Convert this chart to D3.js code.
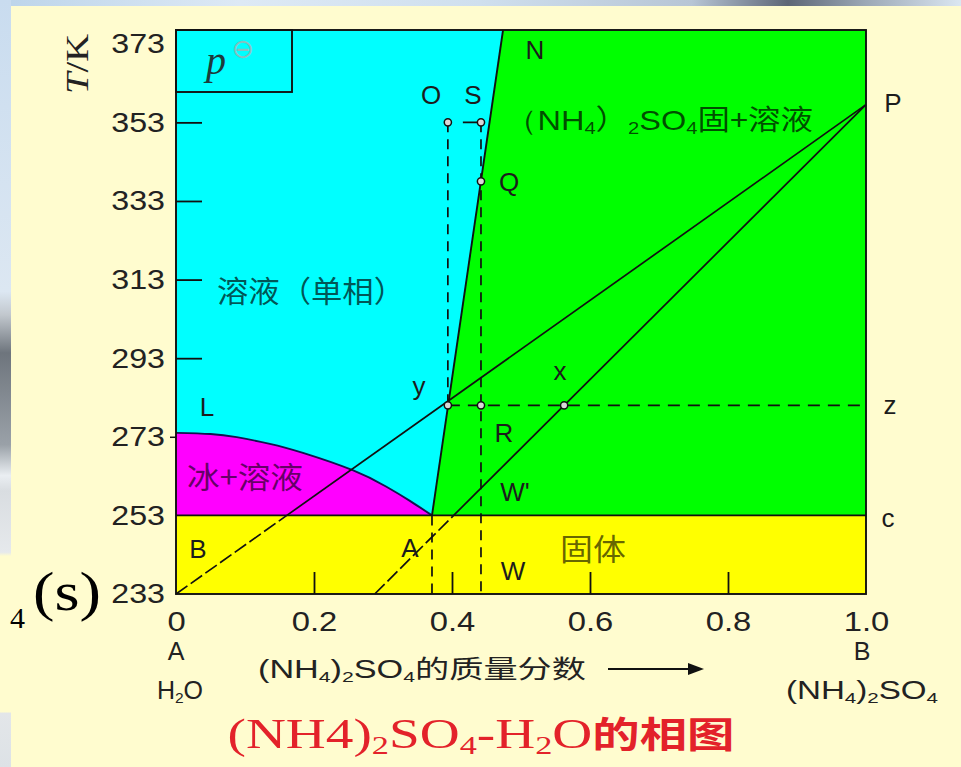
<!DOCTYPE html>
<html><head><meta charset="utf-8">
<script src="https://cdn.jsdelivr.net/npm/d3@7"></script>
<style>body{margin:0;background:#fffccf;} svg{display:block}</style>
</head><body><svg id="c" width="961" height="767"></svg>
<script>
// ---------- data ----------
const yTicks = [233, 253, 273, 293, 313, 333, 353, 373];
const xTicks = [0, 0.2, 0.4, 0.6, 0.8, 1.0];
const xTickLabels = ["0", "0.2", "0.4", "0.6", "0.8", "1.0"];
const innerYTicks = [293, 313, 333, 353];
const innerXTicks = [0.2, 0.4, 0.6, 0.8];
const tMin = 233, tMax = 376.5, tEutectic = 253, tTie = 281, tOS = 353;
// ice liquidus curve L -> eutectic
const iceCurveW = [0, 0.05, 0.088, 0.136, 0.184, 0.256, 0.305, 0.339, 0.371];
const iceCurveT = [274, 273.7, 272.9, 271.2, 268.9, 264.5, 260.3, 256.7, 253];
// (NH4)2SO4 solubility line: eutectic -> N
const saltLineW = [0.371, 0.474];
const saltLineT = [253, 376.5];
// point P and the two lines running to it (start at T=233)
const pointP = [1.0, 357.5];
const tieStartW = [0, 0.288];
// marked points
const ptNames = ["O", "S", "Q", "y", "R", "x"];
const ptW = [0.394, 0.442, 0.442, 0.394, 0.442, 0.5625];
const ptT = [353, 353, 338, 281, 281, 281];
// dashed verticals [w, fromT, toT]
const dashW = [0.371, 0.394, 0.442];
const dashFrom = [253, 353, 353];
const dashTo = [233, 281, 233];

// ---------- setup ----------
const svg = d3.select("#c");
const X = d3.scaleLinear().domain([0, 1]).range([176, 866]);
const Y = d3.scaleLinear().domain([tMin, tMax]).range([594, 30]);
const line = d3.line().x(d => X(d[0])).y(d => Y(d[1]));
const smooth = d3.line().x(d => X(d[0])).y(d => Y(d[1])).curve(d3.curveNatural);
const SANS = "'Liberation Sans', Arial, sans-serif";
const SERIF = "'Liberation Serif', 'Times New Roman', serif";
const CJK = "'Noto Sans CJK SC', sans-serif";

// background (slide)
const defs = svg.append("defs");
const tg = defs.append("linearGradient").attr("id", "topg").attr("x1", 0).attr("x2", 1).attr("y1", 0).attr("y2", 0);
[[0, "#bcd4ea"], [0.25, "#dde9f5"], [0.5, "#cfdfee"], [0.72, "#b7c5d5"], [0.82, "#5d6676"], [0.9, "#9ba7b5"], [1, "#dbe7f2"]]
  .forEach(s => tg.append("stop").attr("offset", s[0]).attr("stop-color", s[1]));
const lg = defs.append("linearGradient").attr("id", "leftg").attr("x1", 0).attr("x2", 0).attr("y1", 0).attr("y2", 1);
[[0, "#c9dcef"], [0.38, "#dce7f2"], [0.41, "#c2c8ce"], [0.46, "#6e757d"], [0.58, "#9aa1a8"], [0.62, "#eaeef2"], [0.64, "#d9dde1"], [0.72, "#e6e9ec"], [0.725, "#fffccf"], [0.928, "#fffccf"], [0.93, "#e3e6e9"], [1, "#dde2e6"]]
  .forEach(s => lg.append("stop").attr("offset", s[0]).attr("stop-color", s[1]));
svg.append("rect").attr("width", 961).attr("height", 767).attr("fill", "#fffccf");
svg.append("rect").attr("width", 961).attr("height", 6).attr("fill", "url(#topg)");
svg.append("rect").attr("width", 11).attr("height", 767).attr("fill", "url(#leftg)");

// ---------- regions ----------
const plot = svg.append("g");
plot.append("rect").attr("x", X(0)).attr("y", Y(tMax)).attr("width", X(1) - X(0))
  .attr("height", Y(tEutectic) - Y(tMax)).attr("fill", "#00ff00");
plot.append("rect").attr("x", X(0)).attr("y", Y(tEutectic)).attr("width", X(1) - X(0))
  .attr("height", Y(tMin) - Y(tEutectic)).attr("fill", "#ffff00");
const cyanPoly = [[0, tMax], [saltLineW[1], saltLineT[1]], [saltLineW[0], saltLineT[0]], [0, tEutectic]];
plot.append("path").attr("d", line(cyanPoly) + "Z").attr("fill", "#00ffff");
const ice = iceCurveW.map((w, i) => [w, iceCurveT[i]]);
plot.append("path").attr("d", smooth(ice) + "L" + X(0) + "," + Y(tEutectic) + "Z").attr("fill", "#ff00ff");

// ---------- lines ----------
const ink = "#111";
plot.append("path").attr("d", smooth(ice))
  .attr("fill", "none").attr("stroke", "#141450").attr("stroke-width", 1.9);
plot.append("path").attr("d", line(saltLineW.map((w, i) => [w, saltLineT[i]])))
  .attr("fill", "none").attr("stroke", ink).attr("stroke-width", 1.9);
plot.append("path").attr("d", line([[0, tEutectic], [1, tEutectic]]))
  .attr("stroke", ink).attr("stroke-width", 1.9);
tieStartW.forEach(w0 => {
  const wc = w0 + (pointP[0] - w0) * (tEutectic - tMin) / (pointP[1] - tMin);
  plot.append("path").attr("d", line([[w0, tMin], [wc, tEutectic]]))
    .attr("stroke", ink).attr("stroke-width", 1.7).attr("stroke-dasharray", "14,4");
  plot.append("path").attr("d", line([[wc, tEutectic], pointP]))
    .attr("stroke", ink).attr("stroke-width", 1.7);
});
dashW.forEach((w, i) => {
  plot.append("path").attr("d", line([[w, dashFrom[i]], [w, dashTo[i]]]))
    .attr("stroke", ink).attr("stroke-width", 1.7).attr("stroke-dasharray", "10,7");
});
plot.append("path").attr("d", line([[ptW[0], tOS], [ptW[1], tOS]]))
  .attr("stroke", ink).attr("stroke-width", 1.7).attr("stroke-dasharray", "0,15,12");
plot.append("path").attr("d", line([[ptW[3], tTie], [1, tTie]]))
  .attr("stroke", ink).attr("stroke-width", 1.7).attr("stroke-dasharray", "12,8");

// frame
plot.append("rect").attr("x", X(0)).attr("y", Y(tMax)).attr("width", X(1) - X(0))
  .attr("height", Y(tMin) - Y(tMax)).attr("fill", "none").attr("stroke", ink).attr("stroke-width", 1.9);
// p-standard box
plot.append("rect").attr("x", X(0)).attr("y", Y(tMax)).attr("width", 116).attr("height", 62)
  .attr("fill", "none").attr("stroke", ink).attr("stroke-width", 1.9);

// markers
plot.selectAll("circle.pt").data(ptNames).join("circle").attr("class", "pt")
  .attr("cx", (d, i) => X(ptW[i])).attr("cy", (d, i) => Y(ptT[i])).attr("r", 3.6)
  .attr("fill", "#d8d8d8").attr("stroke", ink).attr("stroke-width", 1.5);

// ---------- axes ----------
function stretch(sel, k) {
  sel.each(function () {
    const w = this.getComputedTextLength();
    d3.select(this).attr("textLength", w * k).attr("lengthAdjust", "spacingAndGlyphs");
  });
}
const ya = svg.append("g").attr("transform", `translate(${X(0)},0)`)
  .call(d3.axisLeft(Y).tickValues(yTicks).tickSize(0).tickPadding(11));
ya.select(".domain").remove();
ya.selectAll("text").attr("font-family", SANS).attr("font-size", 28).attr("fill", "#222");
stretch(ya.selectAll("text"), 1.15);
const yi = svg.append("g").attr("transform", `translate(${X(0)},0)`)
  .call(d3.axisRight(Y).tickValues(innerYTicks).tickSize(26).tickFormat(""));
yi.select(".domain").remove();
yi.selectAll("line").attr("stroke", ink).attr("stroke-width", 1.8);
const yo = svg.append("g").attr("transform", `translate(${X(0)},0)`)
  .call(d3.axisLeft(Y).tickValues([273]).tickSize(6).tickFormat(""));
yo.select(".domain").remove();
yo.selectAll("line").attr("stroke", ink).attr("stroke-width", 1.5);

const xa = svg.append("g").attr("transform", `translate(0,${Y(tMin)})`)
  .call(d3.axisBottom(X).tickValues(xTicks).tickFormat((d, i) => xTickLabels[i]).tickSize(0).tickPadding(17));
xa.select(".domain").remove();
xa.selectAll("text").attr("font-family", SANS).attr("font-size", 28).attr("fill", "#222");
stretch(xa.selectAll("text"), 1.17);
const xi = svg.append("g").attr("transform", `translate(0,${Y(tMin)})`)
  .call(d3.axisTop(X).tickValues(innerXTicks).tickSize(22).tickFormat(""));
xi.select(".domain").remove();
xi.selectAll("line").attr("stroke", ink).attr("stroke-width", 1.8);

// ---------- text ----------
function rich(x, y, parts, o) {
  const t = svg.append("text").attr("x", x).attr("y", y).attr("font-size", o.size)
    .attr("font-family", o.family).attr("fill", o.fill || "#222").attr("text-anchor", o.anchor || "start");
  if (o.opacity) t.attr("fill-opacity", o.opacity);
  if (o.weight) t.attr("font-weight", o.weight);
  let sh = 0;
  const drop = o.drop || 0.24;
  parts.forEach(p => {
    const s = t.append("tspan").text(p.t);
    const want = p.sub ? o.size * drop : 0;
    if (want !== sh) { s.attr("dy", want - sh); sh = want; }
    if (p.sub) s.attr("font-size", o.size * 0.62);
    if (p.family) s.attr("font-family", p.family);
    if (p.weight) s.attr("font-weight", p.weight);
    if (p.italic) s.attr("font-style", "italic");
    if (p.size) s.attr("font-size", p.size);
  });
  if (o.len) t.attr("textLength", o.len).attr("lengthAdjust", "spacingAndGlyphs");
  return t;
}
// letters (center positions)
const letters = [["N", 535, 50], ["O", 431, 95], ["S", 473, 95], ["P", 893, 103], ["Q", 509, 182],
  ["y", 419, 386], ["x", 560, 371], ["z", 890, 405], ["L", 207, 407], ["R", 504, 433],
  ["W'", 515, 492], ["c", 888, 518], ["B", 198, 549], ["A", 410, 548], ["W", 513, 571]];
letters.forEach(l => {
  svg.append("text").attr("x", l[1]).attr("y", l[2]).attr("text-anchor", "middle")
    .attr("dominant-baseline", "central").attr("font-family", SANS).attr("font-size", 26)
    .attr("fill", "#1c1c1c").text(l[0]);
});
// region labels
rich(217, 302, [{ t: "溶液（单相）" }], { size: 30, family: CJK, fill: "#000", opacity: 0.68, len: 188 });
rich(187, 488, [{ t: "冰+溶液" }], { size: 30, family: CJK, fill: "#000", opacity: 0.62, len: 116 });
rich(560, 560, [{ t: "固体" }], { size: 30, family: CJK, fill: "#000", opacity: 0.62, len: 66 });
rich(505, 130, [{ t: "（NH", family: SANS }, { t: "4", sub: true, family: SANS }, { t: "）", family: CJK },
  { t: "2", sub: true, family: SANS }, { t: "SO", family: SANS }, { t: "4", sub: true, family: SANS }, { t: "固+溶液" }],
  { size: 28, family: CJK, fill: "#000", opacity: 0.7, len: 308, drop: 0.16 });

// axis captions
rich(176, 660, [{ t: "A" }], { size: 25, family: SANS, anchor: "middle" });
rich(180, 699, [{ t: "H" }, { t: "2", sub: true }, { t: "O" }], { size: 25, family: SANS, anchor: "middle", drop: 0.14 });
rich(862, 660, [{ t: "B" }], { size: 25, family: SANS, anchor: "middle" });
rich(862, 699, [{ t: "(NH" }, { t: "4", sub: true }, { t: ")" }, { t: "2", sub: true }, { t: "SO" }, { t: "4", sub: true }],
  { size: 25, family: SANS, anchor: "middle", len: 152, drop: 0.14 });
rich(258, 678, [{ t: "(NH", family: SANS }, { t: "4", sub: true, family: SANS }, { t: ")", family: SANS },
  { t: "2", sub: true, family: SANS }, { t: "SO", family: SANS }, { t: "4", sub: true, family: SANS }, { t: "的质量分数" }],
  { size: 25, family: CJK, len: 328, drop: 0.14 });
svg.append("line").attr("x1", 608).attr("x2", 690).attr("y1", 669).attr("y2", 669).attr("stroke", "#111").attr("stroke-width", 2);
svg.append("path").attr("d", "M688,663 L704,669 L688,675 Z").attr("fill", "#111");

// T/K
svg.append("text").attr("transform", "translate(77,64) rotate(-90)").attr("text-anchor", "middle")
  .attr("dominant-baseline", "central").attr("font-family", SERIF).attr("font-size", 32).attr("fill", "#222")
  .attr("textLength", 60).attr("lengthAdjust", "spacingAndGlyphs")
  .call(t => { t.append("tspan").attr("font-style", "italic").text("T"); t.append("tspan").text("/K"); });
// p-standard
svg.append("text").attr("x", 206).attr("y", 74).attr("font-family", SERIF).attr("font-style", "italic")
  .attr("font-size", 40).attr("fill", "#1d3b3b").text("p");
svg.append("text").attr("x", 243).attr("y", 48).attr("text-anchor", "middle").attr("dominant-baseline", "central")
  .attr("font-family", "'DejaVu Sans', sans-serif").attr("font-size", 27).attr("fill", "#86c0c0").text("⊖");

// title
rich(481, 748, [{ t: "(NH4)" }, { t: "2", sub: true }, { t: "SO" }, { t: "4", sub: true }, { t: "-H" }, { t: "2", sub: true }, { t: "O" },
  { t: "的相图", family: CJK, weight: "bold", size: 36 }],
  { size: 42, family: SERIF, fill: "#e3222a", anchor: "middle", len: 507, drop: 0.15 });

// slide fragment at left
svg.append("text").attr("x", 10).attr("y", 628).attr("font-family", SERIF).attr("font-size", 30).attr("fill", "#000").text("4");
svg.append("text").attr("x", 33).attr("y", 610).attr("font-family", SERIF).attr("font-size", 54).attr("fill", "#000")
  .attr("textLength", 68).attr("lengthAdjust", "spacingAndGlyphs").text("(s)");
</script></body></html>
